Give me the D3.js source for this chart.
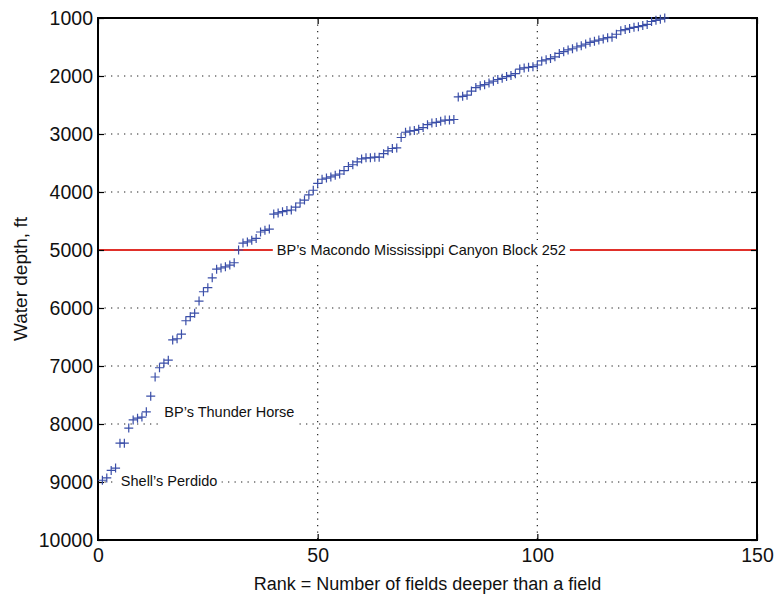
<!DOCTYPE html>
<meta charset="utf-8">
<script src="https://cdn.jsdelivr.net/npm/d3@7"></script>
<style>
  body { margin: 0; background: #fff; }
  text { font-family: "Liberation Sans", Arial, Helvetica, sans-serif; }
</style>
<div id="chart"></div>
<script>

// rank of each field (number of fields deeper than it)
var ranks = d3.range(1, 130)

// water depth (ft) for each rank
var depths = [
  8970, 8930, 8800, 8760, 8330, 8330, 8070, 7930, 7900, 7880,
  7790, 7520, 7190, 7030, 6950, 6900, 6550, 6530, 6450, 6220,
  6150, 6090, 5880, 5720, 5650, 5480, 5330, 5310, 5290, 5260,
  5220, 5000, 4880, 4860, 4830, 4800, 4690, 4660, 4640, 4380,
  4360, 4340, 4320, 4310, 4260, 4190, 4140, 4050, 3970, 3850,
  3780, 3760, 3740, 3710, 3690, 3630, 3560, 3530, 3480, 3430,
  3410, 3410, 3400, 3400, 3340, 3290, 3250, 3240, 3060, 2970,
  2950, 2940, 2920, 2890, 2840, 2810, 2800, 2780, 2760, 2760,
  2750, 2360, 2350, 2330, 2260, 2200, 2170, 2150, 2120, 2090,
  2060, 2040, 2010, 1990, 1960, 1880, 1860, 1850, 1840, 1810,
  1740, 1720, 1700, 1670, 1610, 1580, 1550, 1530, 1500, 1480,
  1450, 1420, 1400, 1380, 1360, 1340, 1330, 1280, 1220, 1200,
  1180, 1160, 1150, 1130, 1110, 1060, 1040, 1020, 1000
]

var xTicks = [0, 50, 100, 150]
var yTicks = [1000, 2000, 3000, 4000, 5000, 6000, 7000, 8000, 9000, 10000]

var macondoDepth = 5000
var labels = [
  {text: "BP\u2019s Macondo Mississippi Canyon Block 252", rank: 73.6, depth: 5000, anchor: "middle", padBottom: 2},
  {text: "BP\u2019s Thunder Horse", rank: 15.1, depth: 7790, anchor: "start", padBottom: 8},
  {text: "Shell\u2019s Perdido", rank: 5.2, depth: 8990, anchor: "start", padBottom: 2}
]

var data = ranks.map(function(r, i) { return {rank: r, depth: depths[i]} })

// dimensions
var W = 777, H = 596
var margin = {top: 18, right: 20, bottom: 56, left: 98}
var width = W - margin.left - margin.right,
    height = H - margin.top - margin.bottom

var svg = d3.select("#chart")
  .append("svg")
    .attr("width", W)
    .attr("height", H)
  .append("g")
    .attr("transform", "translate(" + margin.left + "," + margin.top + ")")

var x = d3.scaleLinear().domain([0, 150]).range([0, width])
var y = d3.scaleLinear().domain([1000, 10000]).range([0, height])

// dotted grid
svg.append("g")
  .selectAll("line")
  .data(xTicks.slice(1, -1))
  .enter().append("line")
    .attr("x1", function(d) { return x(d) }).attr("x2", function(d) { return x(d) })
    .attr("y1", 0).attr("y2", height)
    .attr("stroke", "#222").attr("stroke-width", 1.2)
    .attr("stroke-dasharray", "1.3,5.2")

svg.append("g")
  .selectAll("line")
  .data(yTicks.slice(1, -1).filter(function(d) { return d != macondoDepth }))
  .enter().append("line")
    .attr("x1", 0).attr("x2", width)
    .attr("y1", function(d) { return y(d) }).attr("y2", function(d) { return y(d) })
    .attr("stroke", "#222").attr("stroke-width", 1.2)
    .attr("stroke-dasharray", "1.3,5.2")

// Macondo line
svg.append("line")
  .attr("x1", 0).attr("x2", width)
  .attr("y1", y(macondoDepth)).attr("y2", y(macondoDepth))
  .attr("stroke", "#e0302a").attr("stroke-width", 2)

// axes (ticks pointing inward, on all four sides)
var axB = svg.append("g").attr("transform", "translate(0," + height + ")")
  .call(d3.axisBottom(x).tickValues(xTicks).tickSizeInner(-6).tickSizeOuter(0).tickPadding(8))
var axT = svg.append("g")
  .call(d3.axisTop(x).tickValues(xTicks).tickSizeInner(-6).tickSizeOuter(0).tickFormat(""))
var axL = svg.append("g")
  .call(d3.axisLeft(y).tickValues(yTicks).tickFormat(d3.format("d")).tickSizeInner(-6).tickSizeOuter(0).tickPadding(6))
var axR = svg.append("g").attr("transform", "translate(" + width + ",0)")
  .call(d3.axisRight(y).tickValues(yTicks).tickSizeInner(-6).tickSizeOuter(0).tickFormat(""))

svg.selectAll(".domain").remove()
svg.selectAll(".tick line").attr("stroke", "#000").attr("stroke-width", 1.2)
axB.selectAll("text").style("font-size", "19.5px").attr("fill", "#111")
axL.selectAll("text").style("font-size", "19.5px").attr("fill", "#111").attr("dx", "1")

// frame
svg.append("rect")
  .attr("x", 0).attr("y", 0)
  .attr("width", width).attr("height", height)
  .attr("fill", "none").attr("stroke", "#000").attr("stroke-width", 2)

// annotation labels with white boxes
labels.forEach(function(l) {
  var g = svg.append("g")
  var t = g.append("text")
    .attr("x", x(l.rank))
    .attr("y", y(l.depth) + 5)
    .attr("text-anchor", l.anchor)
    .style("font-size", "14.5px")
    .attr("fill", "#111")
    .text(l.text)
  var b = t.node().getBBox()
  g.insert("rect", "text")
    .attr("x", b.x - 4).attr("y", b.y - 2)
    .attr("width", b.width + 8).attr("height", b.height + 2 + l.padBottom)
    .attr("fill", "#fff")
})

// data points as "+" markers
var s = 4.5
svg.append("g")
  .selectAll("path")
  .data(data)
  .enter().append("path")
    .attr("d", function(d) {
      var cx = x(d.rank), cy = y(d.depth)
      return "M" + (cx - s) + "," + cy + "H" + (cx + s) + "M" + cx + "," + (cy - s) + "V" + (cy + s)
    })
    .attr("stroke", "#3a4ea8")
    .attr("stroke-width", 1.2)
    .attr("fill", "none")

// axis titles
svg.append("text")
  .attr("text-anchor", "middle")
  .attr("x", width / 2)
  .attr("y", height + 50)
  .style("font-size", "18px")
  .attr("fill", "#111")
  .text("Rank = Number of fields deeper than a field")

svg.append("text")
  .attr("text-anchor", "middle")
  .attr("transform", "rotate(-90)")
  .attr("x", -height / 2)
  .attr("y", -margin.left + 27)
  .style("font-size", "19px")
  .attr("fill", "#111")
  .text("Water depth, ft")

</script>
